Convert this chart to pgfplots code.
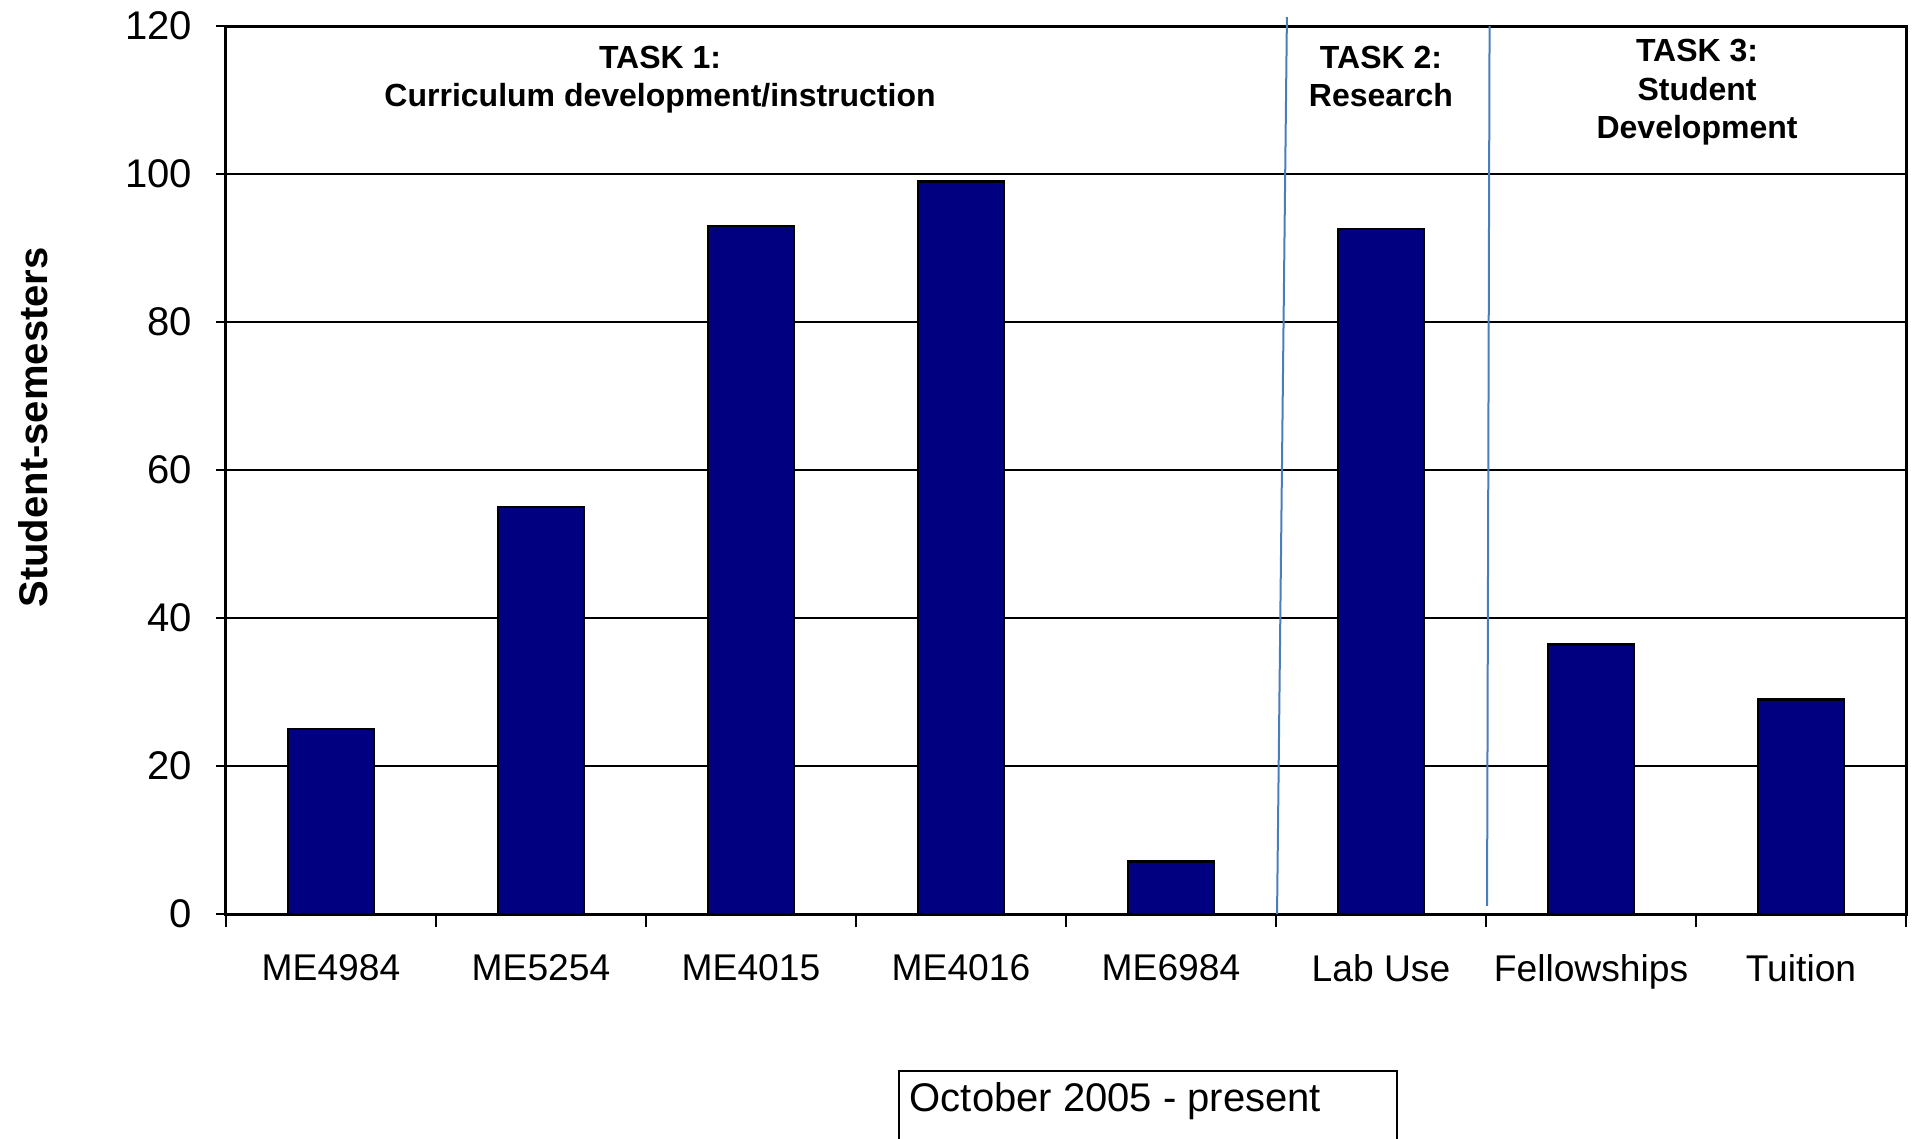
\documentclass[border=0pt]{standalone}
\usepackage{pgfplots}
\pgfplotsset{compat=1.18}
\usepackage{fontspec}
\setmainfont{Liberation Sans}
\definecolor{barnavy}{RGB}{0,0,128}
\definecolor{sepblue}{RGB}{74,126,187}
\begin{document}
\begin{tikzpicture}
\begin{axis}[
  at={(0,0)}, anchor=south west,
  scale only axis, width=420pt, height=222pt,
  xmin=-0.5, xmax=7.5, ymin=0, ymax=120,
  clip=false,
  axis line style={black, line width=0.75pt},
  xtick={0,1,2,3,4,5,6,7},
  xticklabels={ME4984,ME5254,ME4015,ME4016,ME6984,Lab Use,Fellowships,Tuition},
  minor xtick={-0.5,0.5,1.5,2.5,3.5,4.5,5.5,6.5,7.5},
  major x tick style={draw=none},
  minor x tick style={black, line width=0.6pt},
  ytick={0,20,40,60,80,100,120},
  y tick style={black, line width=0.6pt},
  tick align=outside, tick pos=left,
  major tick length=2.5pt, minor tick length=3.25pt,
  ymajorgrids, grid style={black, line width=0.5pt},
  /pgf/number format/assume math mode=true,
  yticklabel style={font=\fontsize{10}{12}\selectfont, xshift=-2.5pt},
  xticklabel style={font=\fontsize{9.3}{11}\selectfont, yshift=-4pt},
  ylabel={Student-semesters},
  ylabel style={at={(axis description cs:-0.115,0.548)}, anchor=center, rotate=0,
    font=\bfseries\fontsize{10}{12}\selectfont},
]
\addplot[ybar, bar width=0.407, fill=barnavy, draw=black, line width=0.6pt]
  coordinates {(0,25) (1,55) (2,93) (3,99) (4,7.1) (5,92.6) (6,36.4) (7,29)};
\addplot[sepblue, line width=0.5pt, no markers] coordinates {(4.552,121.2) (4.505,0)};
\addplot[sepblue, line width=0.5pt, no markers] coordinates {(5.517,120) (5.505,1.1)};
\node[align=center, font=\bfseries\fontsize{8}{9.6}\selectfont] at (axis cs:1.567,112.75)
  {TASK 1:\\Curriculum development/instruction};
\node[align=center, font=\bfseries\fontsize{8}{9.6}\selectfont] at (axis cs:5.0,113.15)
  {TASK 2:\\Research};
\node[align=center, font=\bfseries\fontsize{8}{9.6}\selectfont] at (axis cs:6.505,111.05)
  {TASK 3:\\Student\\Development};
\end{axis}
\begin{scope}
\clip (-56.5pt,-56pt) rectangle (421.75pt,228.5pt);
\draw[black, line width=0.6pt] (168.25pt,-70pt) rectangle (292.75pt,-39.25pt);
\node[anchor=west, inner sep=0pt, font=\fontsize{10}{12}\selectfont] at (170.75pt,-46.75pt) {October 2005 - present};
\end{scope}
\pgfresetboundingbox
\path (-56.5pt,-56pt) rectangle (421.75pt,228.5pt);
\end{tikzpicture}
\end{document}
